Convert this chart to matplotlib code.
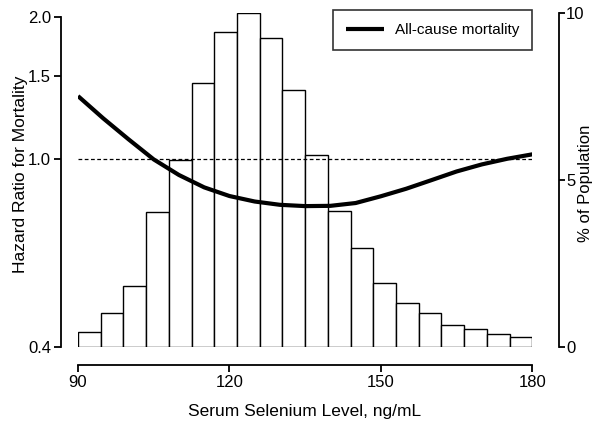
import matplotlib
matplotlib.use("Agg")
import matplotlib.pyplot as plt
from matplotlib.ticker import FixedLocator, NullLocator, FixedFormatter

# ---- data ----
bin_edges_start = 90.0
bin_width = 4.5
pct_population = [0.45, 1.0, 1.83, 4.05, 5.6, 7.9, 9.43, 10.0, 9.25, 7.7,
                  5.75, 4.08, 2.95, 1.92, 1.3, 1.0, 0.65, 0.52, 0.37, 0.3]
selenium = [90, 95, 100, 105, 110, 115, 120, 125, 130, 135,
            140, 145, 150, 155, 160, 165, 170, 175, 180]
hazard_ratio = [1.358, 1.218, 1.10, 0.997, 0.924, 0.870, 0.834, 0.812, 0.799, 0.794,
                0.795, 0.806, 0.833, 0.864, 0.901, 0.94, 0.973, 1.0, 1.022]
left_ticks = [0.4, 1.0, 1.5, 2.0]
left_ticklabels = ["0.4", "1.0", "1.5", "2.0"]
right_ticks = [0, 5, 10]
x_ticks = [90, 120, 150, 180]

plt.rcParams['font.family'] = ['Liberation Sans', 'DejaVu Sans']

W, H = 595, 425
fig = plt.figure(figsize=(W / 100, H / 100), dpi=100)
l, r = 78 / W, 532.3 / W
b, t = 1 - 346.7 / H, 1 - 13.3 / H
ax = fig.add_axes([l, b, r - l, t - b])
ax2 = ax.twinx()

# histogram on right axis
lefts = [bin_edges_start + i * bin_width for i in range(len(pct_population))]
ax2.bar(lefts, pct_population, width=bin_width, align='edge',
        facecolor='white', edgecolor='black', linewidth=1.0, zorder=1)
ax2.set_ylim(0, 10)
ax2.set_yticks(right_ticks)
ax2.set_ylabel("% of Population", fontsize=12)
ax2.yaxis.set_label_coords(1.100, 0.491)

# hazard curve on left axis (log)
ax.set_zorder(ax2.get_zorder() + 1)
ax.patch.set_visible(False)
ax.set_yscale('log')
ax.set_ylim(0.4, 2.033)
ax.plot(selenium, hazard_ratio, color='black', lw=3.0, solid_capstyle='butt',
        solid_joinstyle='round', label='All-cause mortality', zorder=3)
ax.plot([selenium[0], selenium[-1]], [1.0, 1.0], color='black', lw=0.9,
        linestyle=(0, (3, 2)), zorder=2)
ax.yaxis.set_major_locator(FixedLocator(left_ticks))
ax.yaxis.set_major_formatter(FixedFormatter(left_ticklabels))
ax.yaxis.set_minor_locator(NullLocator())
ax.set_ylabel("Hazard Ratio for Mortality", fontsize=12.5)
ax.yaxis.set_label_coords(-0.111, 0.518)

ax.set_xlim(90, 180)
ax.set_xticks(x_ticks)
ax.set_xlabel("Serum Selenium Level, ng/mL", fontsize=12.5)
ax.xaxis.set_label_coords(0.4997, -0.172)

for a in (ax, ax2):
    a.spines['top'].set_visible(False)
ax.spines['right'].set_visible(False)
ax2.spines['left'].set_visible(False)
ax2.spines['bottom'].set_visible(False)
ax.spines['left'].set_position(('outward', 12.5))
ax.spines['left'].set_bounds(0.4, 2.0)
ax.spines['bottom'].set_position(('outward', 13.3))
ax2.spines['right'].set_position(('outward', 19.4))
for s in ('left', 'bottom'):
    ax.spines[s].set_linewidth(1.3)
ax2.spines['right'].set_linewidth(1.3)

ax.tick_params(axis='both', direction='out', length=5, width=1.3, labelsize=12, pad=2)
ax2.tick_params(axis='y', direction='out', length=4, width=1.3, labelsize=12, pad=1)

leg = ax.legend(loc='upper right', bbox_to_anchor=(1.0, 1.01), frameon=True,
                fancybox=False, edgecolor='black', fontsize=11, handlelength=2.5,
                borderpad=0.85, handletextpad=0.7, borderaxespad=0.0)
leg.get_frame().set_linewidth(1.2)

fig.savefig("out.png", dpi=100)
